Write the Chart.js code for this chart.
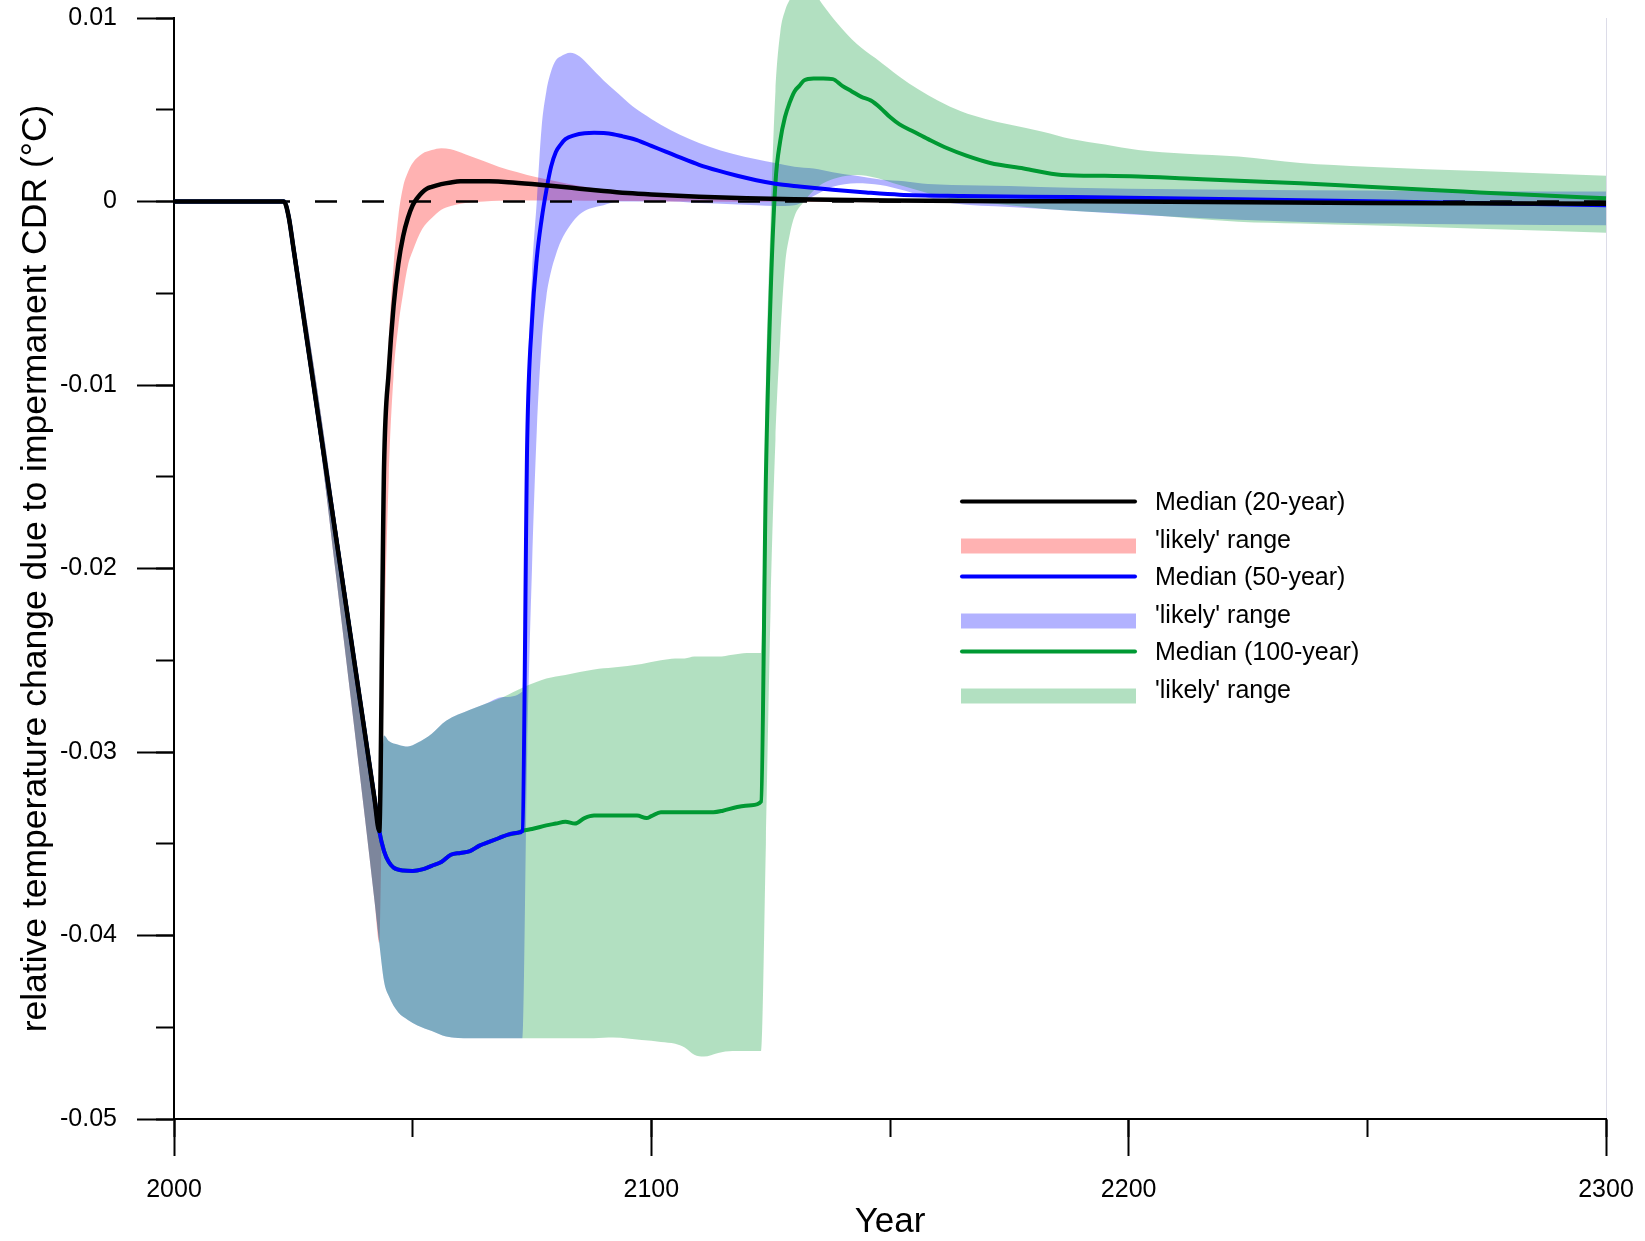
<!DOCTYPE html>
<html>
<head>
<meta charset="utf-8">
<title>Impermanent CDR</title>
<script src="https://cdn.jsdelivr.net/npm/chart.js@4.4.1/dist/chart.umd.min.js"></script>
<style>
  html, body { margin: 0; padding: 0; background: #fff; }
  canvas { display: block; }
</style>
</head>
<body>
<canvas id="chart" width="1645" height="1241"></canvas>
<script>
// ---- data ----
const xTicks = [2000, 2100, 2200, 2300]
const yTicks = [0.01, 0, -0.01, -0.02, -0.03, -0.04, -0.05]

const zeroYears = [2000, 2300]
const zeroValues = [0, 0]

// Median, 20-year storage
const years20 = [2000, 2023, 2024, 2025, 2028, 2031, 2034, 2037, 2040, 2042, 2043, 2044, 2045, 2046, 2047, 2048, 2049, 2050, 2051, 2052, 2053, 2054, 2056, 2058, 2060, 2063, 2066, 2070, 2075, 2080, 2085, 2090, 2095, 2100, 2110, 2120, 2130, 2150, 2175, 2200, 2250, 2300]
const median20 = [0, 0, -0.0008, -0.0025, -0.0078, -0.0131, -0.0184, -0.0237, -0.029, -0.03254, -0.0343, -0.0145, -0.0092, -0.0057, -0.0034, -0.0019, -0.0009, -0.0002, 0.0002, 0.0005, 0.0007, 0.0008, 0.00095, 0.00104, 0.0011, 0.00111, 0.0011, 0.00105, 0.00095, 0.00083, 0.0007, 0.00057, 0.00046, 0.00038, 0.00026, 0.00018, 0.00012, 0.00006, 0.00002, 0, -0.00008, -0.00012]

// Median, 50-year storage
const years50 = [2000, 2023, 2024, 2025, 2028, 2031, 2034, 2037, 2040, 2042, 2043, 2044, 2045, 2046, 2048, 2050, 2052, 2054, 2056, 2058, 2060, 2062, 2064, 2066, 2068, 2070, 2072, 2073, 2074, 2075, 2076, 2077, 2078, 2079, 2080, 2081, 2082, 2084, 2086, 2088, 2090, 2092, 2094, 2097, 2100, 2103, 2106, 2110, 2114, 2118, 2122, 2126, 2131, 2138, 2145, 2152, 2165, 2188, 2200, 2223, 2250, 2275, 2300]
const median50 = [0, 0, -0.0008, -0.0025, -0.0078, -0.0131, -0.0184, -0.0237, -0.029, -0.03254, -0.0343, -0.0354, -0.036, -0.0363, -0.03646, -0.03648, -0.0364, -0.0362, -0.036, -0.0356, -0.0355, -0.0354, -0.0351, -0.0349, -0.0347, -0.0345, -0.0344, -0.0343, -0.013, -0.0065, -0.0031, -0.001, 0.0006, 0.0019, 0.0027, 0.0031, 0.0034, 0.00362, 0.00372, 0.00375, 0.00373, 0.00367, 0.00355, 0.00335, 0.00303, 0.00272, 0.0024, 0.002, 0.00168, 0.0014, 0.00116, 0.00097, 0.00082, 0.00064, 0.00049, 0.00037, 0.0003, 0.00024, 0.0002, 0.00012, 0.00002, -0.0001, -0.0002]

// Median, 100-year storage
const years100 = [2000, 2023, 2024, 2025, 2028, 2031, 2034, 2037, 2040, 2042, 2043, 2044, 2045, 2046, 2048, 2050, 2052, 2054, 2056, 2058, 2060, 2062, 2064, 2066, 2068, 2070, 2072, 2073, 2075, 2078, 2080, 2082, 2084, 2086, 2088, 2094, 2097, 2099, 2100, 2102, 2113, 2115, 2118, 2121, 2123, 2124, 2125, 2126, 2127, 2128, 2129, 2130, 2131, 2132, 2134, 2136, 2138, 2140, 2142, 2144, 2146, 2148, 2150, 2152, 2155, 2158, 2162, 2166, 2171, 2178, 2186, 2195, 2202, 2212, 2223, 2236, 2250, 2270, 2285, 2300]
const median100 = [0, 0, -0.0008, -0.0025, -0.0078, -0.0131, -0.0184, -0.0237, -0.029, -0.03254, -0.0343, -0.0354, -0.036, -0.0363, -0.03646, -0.03648, -0.0364, -0.0362, -0.036, -0.0356, -0.0355, -0.0354, -0.0351, -0.0349, -0.0347, -0.0345, -0.0344, -0.0343, -0.0342, -0.034, -0.0339, -0.0338, -0.0339, -0.0336, -0.03346, -0.03346, -0.03346, -0.0336, -0.0335, -0.03328, -0.03328, -0.0332, -0.033, -0.0329, -0.0327, -0.015, -0.005, 0.001, 0.0033, 0.0046, 0.0054, 0.006, 0.0063, 0.0066, 0.0067, 0.0067, 0.00667, 0.0063, 0.006, 0.0057, 0.0055, 0.0051, 0.0046, 0.0042, 0.0038, 0.0034, 0.0029, 0.0025, 0.0021, 0.0018, 0.00145, 0.0014, 0.00136, 0.00125, 0.00113, 0.001, 0.0008, 0.00054, 0.00035, 0.00018]

// 'likely' range, 20-year
const bandYears20 = [2023, 2025, 2028, 2031, 2034, 2037, 2040, 2042, 2043, 2044, 2045, 2046, 2047, 2048, 2049, 2050, 2052, 2054, 2056, 2058, 2061, 2065, 2068, 2072, 2076, 2080, 2086, 2092, 2100, 2110, 2125, 2150, 2200, 2300]
const high20 = [0, -0.002, -0.0068, -0.012, -0.0176, -0.023, -0.0288, -0.0321, -0.0338, -0.014, -0.0075, -0.0035, -0.0008, 0.0008, 0.0016, 0.0021, 0.0026, 0.0028, 0.0029, 0.00285, 0.00258, 0.0022, 0.0019, 0.0016, 0.00132, 0.0011, 0.0008, 0.0006, 0.00045, 0.0003, 0.0002, 0.0001, 0.00005, 0]
const low20 = [0, -0.0027, -0.0082, -0.014, -0.0205, -0.027, -0.0336, -0.0381, -0.0404, -0.025, -0.015, -0.0095, -0.0068, -0.005, -0.0035, -0.0027, -0.0015, -0.0009, -0.00045, -0.00025, -0.00008, 0, 0.00004, 0.00005, 0.00005, 0.00005, 0.00004, 0.00003, 0.00002, 0, -0.00002, -0.00004, -0.00006, -0.0001]

// 'likely' range, 50-year
const bandYears50 = [2023, 2025, 2028, 2031, 2034, 2037, 2040, 2042, 2043, 2044, 2045, 2047, 2049, 2051, 2054, 2057, 2062, 2065, 2069, 2073, 2074, 2075, 2076, 2077, 2078, 2079, 2080, 2081, 2083, 2085, 2087, 2090, 2093, 2096, 2100, 2104, 2108, 2112, 2117, 2122, 2126, 2130, 2134, 2138, 2143, 2148, 2153, 2158, 2163, 2175, 2188, 2200, 2223, 2250, 2275, 2300]
const high50 = [0, -0.002, -0.0068, -0.012, -0.0176, -0.023, -0.0288, -0.0321, -0.0338, -0.0291, -0.0294, -0.0296, -0.0297, -0.0295, -0.029, -0.0283, -0.0277, -0.0274, -0.027, -0.0267, -0.011, -0.004, 0, 0.004, 0.006, 0.0071, 0.0077, 0.0079, 0.0081, 0.0079, 0.0074, 0.0066, 0.0059, 0.0052, 0.0045, 0.0039, 0.0034, 0.003, 0.0026, 0.0023, 0.0021, 0.0019, 0.0018, 0.0016, 0.0014, 0.0012, 0.0011, 0.00095, 0.0009, 0.00085, 0.00075, 0.0007, 0.00064, 0.0006, 0.00056, 0.00054]
const low50 = [0, -0.0027, -0.0082, -0.014, -0.0205, -0.027, -0.0336, -0.0381, -0.0404, -0.0425, -0.0433, -0.0442, -0.0446, -0.0449, -0.0452, -0.0455, -0.0456, -0.0456, -0.0456, -0.0456, -0.03, -0.02, -0.0125, -0.0078, -0.0052, -0.0038, -0.0029, -0.0022, -0.0013, -0.0007, -0.0004, -0.0002, 0, 0, 0, 0, -0.00005, -0.0001, -0.00015, -0.0002, -0.00025, -0.0002, 0.0003, 0.0008, 0.001, 0.0009, 0.0006, 0.0002, -0.0001, -0.0003, -0.0005, -0.0007, -0.001, -0.0012, -0.00125, -0.0013]

// 'likely' range, 100-year
const bandYears100 = [2023, 2025, 2028, 2031, 2034, 2037, 2040, 2042, 2043, 2044, 2045, 2047, 2049, 2051, 2054, 2057, 2062, 2065, 2069, 2073, 2078, 2082, 2088, 2092, 2098, 2102, 2105, 2107, 2109, 2111, 2114, 2117, 2120, 2123, 2124, 2125, 2126, 2127, 2128, 2129, 2130, 2132, 2134, 2136, 2139, 2143, 2147, 2152, 2156, 2160, 2165, 2170, 2175, 2182, 2188, 2195, 2202, 2212, 2223, 2236, 2250, 2275, 2300]
const high100 = [0, -0.002, -0.0068, -0.012, -0.0176, -0.023, -0.0288, -0.0321, -0.0338, -0.0291, -0.0294, -0.0296, -0.0297, -0.0295, -0.029, -0.0283, -0.0277, -0.0274, -0.027, -0.0265, -0.026, -0.0258, -0.0255, -0.0254, -0.0252, -0.025, -0.0249, -0.0249, -0.0248, -0.0248, -0.0248, -0.0247, -0.0246, -0.0246, -0.01, -0.001, 0.006, 0.0092, 0.0104, 0.011, 0.0114, 0.0117, 0.0114, 0.0107, 0.0097, 0.0086, 0.0078, 0.0068, 0.0061, 0.0055, 0.0049, 0.0045, 0.0042, 0.0038, 0.0034, 0.0031, 0.0028, 0.0026, 0.00245, 0.0021, 0.0019, 0.00165, 0.0014]
const low100 = [0, -0.0027, -0.0082, -0.014, -0.0205, -0.027, -0.0336, -0.0381, -0.0404, -0.0425, -0.0433, -0.0442, -0.0446, -0.0449, -0.0452, -0.0455, -0.0456, -0.0456, -0.0456, -0.0456, -0.0456, -0.0456, -0.0456, -0.04556, -0.0457, -0.0458, -0.0459, -0.0461, -0.0465, -0.0466, -0.0464, -0.0463, -0.0463, -0.0463, -0.035, -0.022, -0.013, -0.0075, -0.0035, -0.0018, -0.0008, 0, 0.0006, 0.001, 0.0013, 0.00145, 0.0013, 0.0009, 0.0006, 0.0003, 0, -0.0001, -0.0002, -0.0004, -0.0005, -0.0006, -0.0007, -0.0009, -0.0011, -0.0012, -0.0013, -0.0015, -0.0017]

// ---- styling ----
const FONT = '"Liberation Sans", Arial, Helvetica, sans-serif'
const black = "#000000"
const blue = "#0000ff"
const green = "#009933"
const pinkFill = "rgba(255, 0, 0, 0.3)"
const blueFill = "rgba(0, 0, 255, 0.3)"
const greenFill = "rgba(0, 153, 51, 0.3)"

Chart.defaults.font.family = FONT
Chart.defaults.color = "#000"

const toPoints = (xs, ys) => xs.map((x, i) => ({ x: x, y: ys[i] }))

const common = {
  pointRadius: 0,
  pointHoverRadius: 0,
  xAxisID: "x",
  yAxisID: "y",
  cubicInterpolationMode: "monotone",
  clip: { left: 2, right: 2, top: false, bottom: 2 },
}

const datasets = []
const addBand = (years, high, low, color, order, legendRow) => {
  const upperIndex = datasets.length
  datasets.push({ ...common, label: "upper", data: toPoints(years, high), borderWidth: 0, borderColor: "rgba(0,0,0,0)", fill: false, order: order })
  datasets.push({ ...common, label: "'likely' range", data: toPoints(years, low), borderWidth: 0, borderColor: "rgba(0,0,0,0)", backgroundColor: color, fill: { target: upperIndex }, order: order, legendRow: legendRow, legendKind: "box" })
}

addBand(bandYears20, high20, low20, pinkFill, 6, 1)
addBand(bandYears50, high50, low50, blueFill, 5, 3)
addBand(bandYears100, high100, low100, greenFill, 4, 5)

datasets.push({ ...common, label: "zero", data: toPoints(zeroYears, zeroValues), borderColor: black, borderWidth: 2.5, borderDash: [22, 25], cubicInterpolationMode: "default", tension: 0, order: 3 })
datasets.push({ ...common, label: "Median (100-year)", data: toPoints(years100, median100), borderColor: green, borderWidth: 4, order: 2, legendRow: 4, legendKind: "line" })
datasets.push({ ...common, label: "Median (50-year)", data: toPoints(years50, median50), borderColor: blue, borderWidth: 4, order: 1, legendRow: 2, legendKind: "line" })
datasets.push({ ...common, label: "Median (20-year)", data: toPoints(years20, median20), borderColor: black, borderWidth: 4.5, order: 0, legendRow: 0, legendKind: "line" })

// bands and lines may run above the top of the axis (as in the original figure)
const overflowTop = {
  id: "overflowTop",
  beforeDatasetsDraw(chart) {
    chart.$savedTop = chart.chartArea.top
    chart.chartArea.top = 0
  },
  afterDatasetsDraw(chart) {
    chart.chartArea.top = chart.$savedTop
  },
}

// legend: alternating median line / 'likely' range swatch rows
const rowLegend = {
  id: "rowLegend",
  afterDraw(chart) {
    const ctx = chart.ctx
    const items = chart.data.datasets.filter((d) => d.legendRow !== undefined).sort((a, b) => a.legendRow - b.legendRow)
    const x0 = 962
    const x1 = 1135
    const textX = 1155
    ctx.save()
    ctx.font = "25px " + FONT
    ctx.textAlign = "left"
    ctx.textBaseline = "alphabetic"
    items.forEach((d) => {
      const pair = Math.floor(d.legendRow / 2)
      const lineY = 501.5 + 75 * pair
      if (d.legendKind === "line") {
        ctx.strokeStyle = d.borderColor
        ctx.lineWidth = 4
        ctx.lineCap = "round"
        ctx.beginPath()
        ctx.moveTo(x0, lineY)
        ctx.lineTo(x1, lineY)
        ctx.stroke()
        ctx.fillStyle = "#000"
        ctx.fillText(d.label, textX, lineY + 8)
      } else {
        const boxY = lineY + 44.5
        ctx.fillStyle = d.backgroundColor
        ctx.fillRect(x0 - 1, boxY - 7.5, x1 - x0 + 2, 15)
        ctx.fillStyle = "#000"
        ctx.fillText(d.label, textX, boxY + 2)
      }
    })
    ctx.restore()
  },
}

// keep the plot frame where the original has it (no extra room for edge labels)
const noEdgePadding = (scale) => {
  scale.paddingTop = 0
  scale.paddingBottom = 0
  scale.paddingLeft = 0
  scale.paddingRight = 0
}

const fmtY = (v) => (Math.abs(v) < 1e-9 ? "0" : v.toFixed(2))

new Chart(document.getElementById("chart"), {
  type: "line",
  data: { datasets: datasets },
  plugins: [overflowTop, rowLegend],
  options: {
    responsive: false,
    animation: false,
    devicePixelRatio: 1,
    events: [],
    layout: { padding: { top: 18, right: 39, bottom: 0, left: 0 } },
    plugins: {
      legend: { display: false },
      tooltip: { enabled: false },
    },
    scales: {
      x: {
        type: "linear",
        position: "bottom",
        min: xTicks[0],
        max: xTicks[xTicks.length - 1],
        afterFit: (scale) => {
          scale.height = 122
          noEdgePadding(scale)
        },
        afterBuildTicks: (scale) => { scale.ticks = xTicks.map((v) => ({ value: v })) },
        ticks: { color: "#000", font: { size: 25 }, padding: 19, maxRotation: 0, callback: (v) => String(v) },
        grid: {
          drawOnChartArea: true,
          color: (c) => (c.tick && c.tick.value === xTicks[xTicks.length - 1] ? "#dcdce8" : "rgba(0,0,0,0)"),
          lineWidth: 1,
          tickLength: 37,
          tickWidth: 2,
          tickColor: "#000",
        },
        border: { color: "#000", width: 2 },
        title: { display: true, text: "Year", color: "#000", font: { size: 35, lineHeight: 1.05 }, padding: { top: 0, bottom: 0 } },
      },
      y: {
        type: "linear",
        position: "left",
        min: yTicks[yTicks.length - 1],
        max: yTicks[0],
        afterFit: (scale) => {
          scale.width = 174
          noEdgePadding(scale)
        },
        afterBuildTicks: (scale) => { scale.ticks = yTicks.map((v) => ({ value: v })) },
        ticks: { color: "#000", font: { size: 25 }, padding: 20, callback: fmtY },
        grid: { drawOnChartArea: false, tickLength: 37, tickWidth: 2, tickColor: "#000" },
        border: { color: "#000", width: 2 },
        title: {
          display: true,
          text: "relative temperature change due to impermanent CDR (°C)",
          color: "#000",
          font: { size: 35.5, lineHeight: 1.05 },
          padding: { top: 18, bottom: 0 },
        },
      },
      // minor tick marks (every 50 years / every 0.005 °C)
      xMinor: {
        type: "linear",
        axis: "x",
        position: { y: yTicks[yTicks.length - 1] },
        min: xTicks[0],
        max: xTicks[xTicks.length - 1],
        ticks: { stepSize: 50, display: false },
        grid: { drawOnChartArea: false, tickLength: 18, tickWidth: 2, tickColor: "#000" },
        border: { display: false },
      },
      yMinor: {
        type: "linear",
        axis: "y",
        position: { x: xTicks[0] },
        min: yTicks[yTicks.length - 1],
        max: yTicks[0],
        ticks: { stepSize: 0.005, display: false },
        grid: { drawOnChartArea: false, tickLength: 18, tickWidth: 2, tickColor: "#000" },
        border: { display: false },
      },
    },
  },
})
</script>
</body>
</html>
